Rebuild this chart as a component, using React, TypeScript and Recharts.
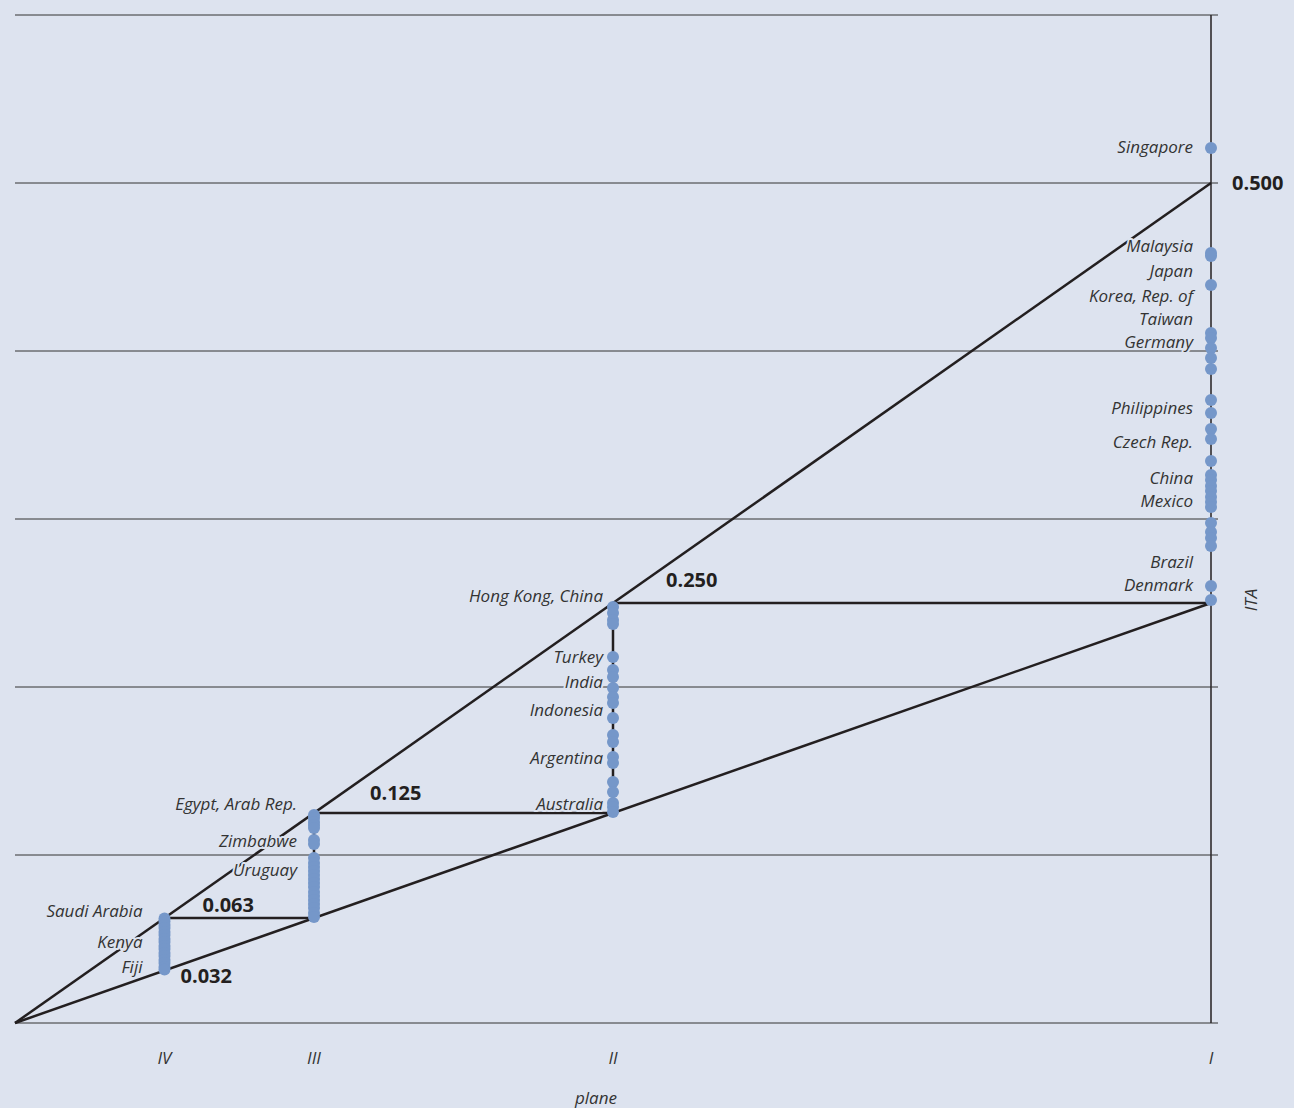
import React from 'react';
import { ComposedChart, XAxis, YAxis, CartesianGrid, Line, Scatter, Label } from 'recharts';

const BG = '#dde3ef';
const INK = '#231f20';
const DOT = '#7597c9';
const TEXT = '#333333';
const FONT = '"Open Sans", "Noto Sans", sans-serif';

// --- data ---
const PLANES = ['IV', 'III', 'II', 'I'];
const PLANE_X = [0.125, 0.25, 0.5, 1];
const Y_TICKS = [0, 0.1, 0.2, 0.3, 0.4, 0.5, 0.6];

// ITA bounds of each plane
const LOW_ITA = [0.03125, 0.0625, 0.125, 0.25];
const HIGH_ITA = [0.0625, 0.125, 0.25, 0.5];
const THRESHOLD_LABELS = ['0.032', '0.063', '0.125', '0.250', '0.500'];

const PLANE_I_ITA = [0.5208, 0.4583, 0.4565, 0.4393, 0.4107, 0.4077, 0.4018, 0.3958, 0.3893, 0.3708, 0.3631, 0.3536, 0.3476, 0.3345, 0.3262, 0.3232, 0.3196, 0.3167, 0.3131, 0.3101, 0.3071, 0.2976, 0.2923, 0.2887, 0.2839, 0.2601, 0.2518];
const PLANE_II_ITA = [0.2476, 0.2440, 0.2399, 0.2375, 0.2179, 0.2101, 0.2060, 0.1994, 0.1940, 0.1905, 0.1815, 0.1714, 0.1673, 0.1583, 0.1548, 0.1435, 0.1375, 0.1310, 0.1286, 0.1256];
const PLANE_III_ITA = [0.1238, 0.1220, 0.1196, 0.1179, 0.1161, 0.1089, 0.1065, 0.0982, 0.0952, 0.0929, 0.0905, 0.0881, 0.0857, 0.0833, 0.0810, 0.0780, 0.0756, 0.0732, 0.0708, 0.0685, 0.0655, 0.0631];
const PLANE_IV_ITA = [0.0622, 0.0604, 0.0583, 0.0565, 0.0542, 0.0524, 0.0500, 0.0482, 0.0458, 0.0440, 0.0417, 0.0399, 0.0375, 0.0357, 0.0333, 0.0318];

const PLANE_I_NAMES = ['Singapore', 'Malaysia', 'Japan', 'Korea, Rep. of', 'Taiwan', 'Germany', 'Philippines', 'Czech Rep.', 'China', 'Mexico', 'Brazil', 'Denmark'];
const PLANE_I_NAME_ITA = [0.5214, 0.4625, 0.4476, 0.4327, 0.4190, 0.4054, 0.3661, 0.3458, 0.3244, 0.3107, 0.2744, 0.2607];
const PLANE_II_NAMES = ['Hong Kong, China', 'Turkey', 'India', 'Indonesia', 'Argentina', 'Australia'];
const PLANE_II_NAME_ITA = [0.2542, 0.2179, 0.2030, 0.1863, 0.1577, 0.1304];
const PLANE_III_NAMES = ['Egypt, Arab Rep.', 'Zimbabwe', 'Uruguay'];
const PLANE_III_NAME_ITA = [0.1304, 0.1083, 0.0911];
const PLANE_IV_NAMES = ['Saudi Arabia', 'Kenya', 'Fiji'];
const PLANE_IV_NAME_ITA = [0.0667, 0.0482, 0.0333];

// --- layout (pixel offsets of annotations) ---
const NAME_GAP = [22, 17, 10, 18]; // IV, III, II, I
const THRESHOLD_OFFSETS = [[16, 5], [38, -13], [56, -20], [53, -23], [21, 0]];

const dotsFor = (i: number, vals: number[]) => vals.map(y => ({ x: PLANE_X[i], y }));
const namesFor = (i: number, names: string[], vals: number[]) =>
  names.map((name, k) => ({ x: PLANE_X[i], y: vals[k], name }));

const dotSeries = [PLANE_IV_ITA, PLANE_III_ITA, PLANE_II_ITA, PLANE_I_ITA].map((v, i) => dotsFor(i, v));
const nameSeries = [
  namesFor(0, PLANE_IV_NAMES, PLANE_IV_NAME_ITA),
  namesFor(1, PLANE_III_NAMES, PLANE_III_NAME_ITA),
  namesFor(2, PLANE_II_NAMES, PLANE_II_NAME_ITA),
  namesFor(3, PLANE_I_NAMES, PLANE_I_NAME_ITA),
];

// diagonals, horizontal steps and vertical steps
const segments: { x: number; y: number }[][] = [
  [{ x: 0, y: 0 }, { x: PLANE_X[3], y: HIGH_ITA[3] }],
  [{ x: 0, y: 0 }, { x: PLANE_X[3], y: LOW_ITA[3] }],
];
for (let i = 0; i < 3; i++) {
  segments.push([{ x: PLANE_X[i], y: HIGH_ITA[i] }, { x: PLANE_X[i + 1], y: LOW_ITA[i + 1] }]);
  segments.push([{ x: PLANE_X[i], y: LOW_ITA[i] }, { x: PLANE_X[i], y: HIGH_ITA[i] }]);
}

const thresholdPoints = THRESHOLD_LABELS.map((label, i) => ({
  x: i === 0 ? PLANE_X[0] : PLANE_X[i - 1],
  y: i === 0 ? LOW_ITA[0] : HIGH_ITA[i - 1],
  label,
  idx: i,
}));

const halo = { stroke: BG, strokeWidth: 4, paintOrder: 'stroke' as const, strokeLinejoin: 'round' as const };

const XTick = (props: any) => {
  const { x, y, payload } = props;
  const idx = PLANE_X.indexOf(payload.value);
  return (
    <text x={x} y={y + 33} dy="0.35em" textAnchor="middle" fontFamily={FONT} fontStyle="italic" fontSize={17} fill={TEXT}>
      {PLANES[idx]}
    </text>
  );
};

const YTick = () => null;

export default function App() {
  return (
    <div style={{ position: 'absolute', left: 0, top: 0, width: 1294, height: 1108, background: BG }}>
      <ComposedChart width={1294} height={1108} margin={{ top: 15, right: 0, bottom: 0, left: 15 }}>
        <CartesianGrid vertical={false} stroke="#333333" strokeWidth={1} />
        <XAxis dataKey="x" type="number" domain={[0, 1]} ticks={PLANE_X} height={85}
          axisLine={false} tickLine={false} tickSize={0} tick={<XTick />} allowDuplicatedCategory={false}>
          <Label content={(p: any) => (
            <text x={p.viewBox.x + 581} y={p.viewBox.y + 75} dy="0.35em" textAnchor="middle"
              fontFamily={FONT} fontStyle="italic" fontSize={17} fill={TEXT}>plane</text>
          )} />
        </XAxis>
        <YAxis dataKey="y" type="number" orientation="right" domain={[0, 0.6]} ticks={Y_TICKS} width={83}
          axisLine={{ stroke: INK, strokeWidth: 1.5 }} tickLine={{ stroke: '#333333' }} tickSize={7} tick={<YTick />}>
          <Label content={(p: any) => (
            <text x={p.viewBox.x + 39} y={p.viewBox.y + 585} textAnchor="middle" dominantBaseline="central"
              transform={`rotate(-90 ${p.viewBox.x + 39} ${p.viewBox.y + 585})`}
              fontFamily={FONT} fontStyle="italic" fontSize={17} fill={TEXT}>ITA</text>
          )} />
        </YAxis>

        {segments.map((seg, i) => (
          <Line key={`seg-${i}`} data={seg} dataKey="y" type="linear" stroke={INK} strokeWidth={2.5}
            dot={false} activeDot={false} isAnimationActive={false} />
        ))}

        {dotSeries.map((d, i) => (
          <Scatter key={`dots-${i}`} data={d} dataKey="y" isAnimationActive={false}
            shape={(p: any) => <circle cx={p.cx} cy={p.cy} r={6} fill={DOT} />} />
        ))}

        {nameSeries.map((d, i) => (
          <Scatter key={`names-${i}`} data={d} dataKey="y" isAnimationActive={false}
            shape={(p: any) => (
              <text x={p.cx - NAME_GAP[i]} y={p.cy} dy="0.35em" textAnchor="end" fontFamily={FONT}
                fontStyle="italic" fontSize={17} fill={TEXT} {...halo}>{p.payload.name}</text>
            )} />
        ))}

        <Scatter data={thresholdPoints} dataKey="y" isAnimationActive={false}
          shape={(p: any) => {
            const [dx, dy] = THRESHOLD_OFFSETS[p.payload.idx];
            return (
              <text x={p.cx + dx} y={p.cy + dy} dy="0.35em" textAnchor="start" fontFamily={FONT}
                fontWeight={700} fontSize={20} fill={INK} {...halo}>{p.payload.label}</text>
            );
          }} />
      </ComposedChart>
    </div>
  );
}
